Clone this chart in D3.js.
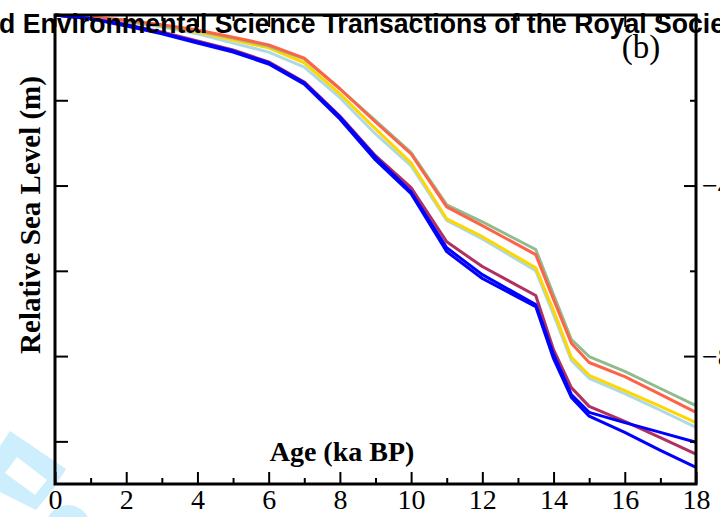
<!DOCTYPE html>
<html>
<head>
<meta charset="utf-8">
<script src="https://cdn.jsdelivr.net/npm/d3@7/dist/d3.min.js"></script>
<style>
  html, body { margin: 0; padding: 0; background: #fff; overflow: hidden; }
  svg { display: block; }
</style>
</head>
<body>
<svg id="chart" width="720" height="517"></svg>
<script>
// Age of each sample point (ka BP)
const ages = [0, 1, 2, 3, 4, 5, 6, 7, 8, 9, 10, 11, 12, 13.5, 14, 14.5, 15, 16, 17, 18];

// Relative sea level (m) for each model run
const rslGreen     = [0, -0.7, -1.4, -2.6, -3.7, -5.4, -7.3, -10.3, -17.3, -24.8, -32.3, -44.5, -48.5, -55.0, -65.6, -76.1, -80.1, -83.6, -87.6, -91.6];
const rslTomato    = [0, -0.5, -1.2, -2.3, -3.5, -5.2, -7.0, -10.1, -17.3, -25.1, -32.6, -45.0, -49.4, -56.2, -66.7, -77.0, -81.5, -84.8, -89.0, -93.2];
const rslGold      = [0, -0.5, -1.4, -2.6, -4.0, -5.9, -7.7, -11.2, -18.5, -26.7, -34.7, -47.8, -52.0, -59.3, -69.3, -80.3, -84.5, -88.1, -91.8, -95.6];
const rslLightBlue = [0, -0.5, -1.6, -2.8, -4.4, -6.6, -8.7, -12.2, -19.4, -27.9, -35.4, -48.2, -52.5, -60.0, -70.3, -81.0, -85.2, -88.8, -92.7, -96.7];
const rslMaroon    = [0, -0.9, -2.3, -4.0, -6.1, -8.2, -11.0, -15.7, -23.7, -33.0, -40.5, -53.2, -59.0, -65.8, -78.5, -87.4, -91.8, -95.3, -99.1, -103.0];
const rslBlueA     = [0, -0.9, -2.3, -4.2, -6.3, -8.4, -11.2, -15.9, -23.9, -33.3, -41.5, -54.6, -60.9, -67.9, -79.6, -89.0, -93.2, -95.6, -97.9, -100.2];
const rslBlueB     = [0, -0.9, -2.6, -4.4, -6.6, -8.7, -11.5, -16.2, -24.4, -34.0, -41.9, -55.5, -61.8, -68.4, -80.6, -89.7, -94.1, -97.9, -102.1, -106.1];

// Axis ticks
const xMajorTicks = [0, 2, 4, 6, 8, 10, 12, 14, 16, 18];
const xMinorTicks = [1, 3, 5, 7, 9, 11, 13, 15, 17];
const yLeftTicks = [-20, -40, -60, -80, -100];
const yRightMajor = [-40, -80];
const yRightMinor = [-20, -60, -100];
const yRightLabels = ["\u221240", "\u221280"];

const series = [
  { values: rslLightBlue, color: "#add8e6" },
  { values: rslGold,      color: "#ffd700" },
  { values: rslGreen,     color: "#8fbc8f" },
  { values: rslTomato,    color: "#ff6347" },
  { values: rslMaroon,    color: "#b03060" },
  { values: rslBlueA,     color: "#0000ff" },
  { values: rslBlueB,     color: "#0000ff" }
];

const svg = d3.select("#chart");
const plotLeft = 55, plotRight = 696, plotTop = 15, plotBottom = 484;

const x = d3.scaleLinear().domain([0, 18]).range([plotLeft, plotRight]);
const y = d3.scaleLinear().domain([0, -110]).range([plotTop, plotBottom]);

// Faint journal watermark in the lower-left corner
const wm = svg.append("g").attr("fill", "#cdeefc");
wm.append("path")
  .attr("fill-rule", "evenodd")
  .attr("d", "M0,446 L10,431 L66,469 L54,488 L36,510 L0,492 Z M5,473 L17,457 L47,480 L35,495 Z");
wm.append("circle").attr("cx", 68).attr("cy", 527).attr("r", 22);

// Model curves
const line = d3.line().x((d, i) => x(ages[i])).y(d => y(d));
svg.append("g").selectAll("path")
  .data(series)
  .join("path")
  .attr("d", d => line(d.values))
  .attr("fill", "none")
  .attr("stroke", d => d.color)
  .attr("stroke-width", 3)
  .attr("stroke-linejoin", "round");

// Header line
svg.append("text")
  .attr("x", -1).attr("y", 33)
  .attr("font-family", "Liberation Sans, Arial, sans-serif")
  .attr("font-weight", "bold")
  .attr("font-size", 28)
  .attr("textLength", 726)
  .attr("lengthAdjust", "spacingAndGlyphs")
  .attr("fill", "#000")
  .text("d Environmental Science Transactions of the Royal Socie");

// Frame
svg.append("rect")
  .attr("x", plotLeft).attr("y", plotTop)
  .attr("width", plotRight - plotLeft).attr("height", plotBottom - plotTop)
  .attr("fill", "none").attr("stroke", "#000").attr("stroke-width", 3);

const serif = "Liberation Serif, Times New Roman, serif";

function styleAxis(g) {
  g.select(".domain").remove();
  g.selectAll(".tick line").attr("stroke", "#000").attr("stroke-width", 2);
  g.selectAll(".tick text").attr("font-family", serif).attr("font-size", 28).attr("fill", "#000");
}

// Bottom axis
svg.append("g").attr("transform", `translate(0,${plotBottom})`)
  .call(d3.axisBottom(x).tickValues(xMajorTicks).tickSize(-12).tickPadding(5).tickFormat(d3.format("d")))
  .call(styleAxis);
svg.append("g").attr("transform", `translate(0,${plotBottom})`)
  .call(d3.axisBottom(x).tickValues(xMinorTicks).tickSize(-6).tickFormat(""))
  .call(styleAxis);

// Top axis
svg.append("g").attr("transform", `translate(0,${plotTop})`)
  .call(d3.axisTop(x).tickValues(xMajorTicks).tickSize(-12).tickFormat(""))
  .call(styleAxis);
svg.append("g").attr("transform", `translate(0,${plotTop})`)
  .call(d3.axisTop(x).tickValues(xMinorTicks).tickSize(-6).tickFormat(""))
  .call(styleAxis);

// Left axis
svg.append("g").attr("transform", `translate(${plotLeft},0)`)
  .call(d3.axisLeft(y).tickValues(yLeftTicks).tickSize(-13).tickFormat(""))
  .call(styleAxis);

// Right axis
svg.append("g").attr("transform", `translate(${plotRight},0)`)
  .call(d3.axisRight(y).tickValues(yRightMajor).tickSize(-12).tickFormat(""))
  .call(styleAxis);
svg.append("g").attr("transform", `translate(${plotRight},0)`)
  .call(d3.axisRight(y).tickValues(yRightMinor).tickSize(-6).tickFormat(""))
  .call(styleAxis);
svg.append("g").selectAll("text")
  .data(yRightMajor)
  .join("text")
  .attr("x", plotRight + 6)
  .attr("y", d => y(d))
  .attr("dy", "0.35em")
  .attr("font-family", serif).attr("font-size", 28).attr("fill", "#000")
  .text((d, i) => yRightLabels[i]);

// Panel label
svg.append("text")
  .attr("x", 641).attr("y", 58)
  .attr("text-anchor", "middle")
  .attr("font-family", serif).attr("font-size", 33).attr("fill", "#000")
  .text("(b)");

// Axis titles
svg.append("text")
  .attr("x", 342).attr("y", 461)
  .attr("text-anchor", "middle")
  .attr("font-family", serif).attr("font-weight", "bold").attr("font-size", 28).attr("fill", "#000")
  .text("Age (ka BP)");

svg.append("text")
  .attr("transform", "translate(40,215) rotate(-90)")
  .attr("text-anchor", "middle")
  .attr("font-family", serif).attr("font-weight", "bold").attr("font-size", 29).attr("fill", "#000")
  .text("Relative Sea Level (m)");
</script>
</body>
</html>
